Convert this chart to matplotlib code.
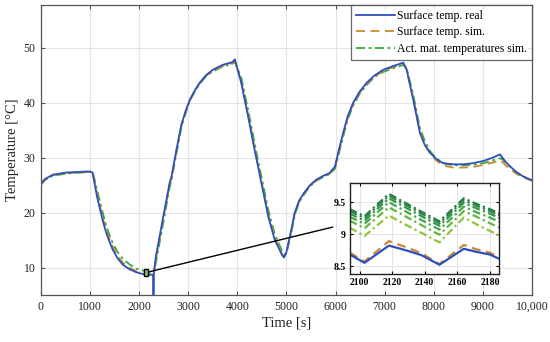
import matplotlib
matplotlib.use("Agg")
import matplotlib.pyplot as plt
from matplotlib.patches import Rectangle, ConnectionPatch

# ---------------- data ----------------
t = [0, 80, 240, 510, 990, 1050, 1090, 1140, 1190, 1260, 1330, 1400, 1460, 1560, 1670,
     1800, 1940, 2100, 2210, 2285, 2292, 2300, 2340, 2480, 2620, 2660, 2760, 2860, 2950,
     3030, 3130, 3230, 3360, 3500, 3700, 3900, 3950, 4080, 4220, 4350, 4490, 4630, 4760,
     4910, 4950, 5000, 5100, 5170, 5260, 5360, 5480, 5610, 5750, 5880, 5990, 6070, 6155,
     6250, 6360, 6490, 6630, 6800, 6970, 7180, 7380, 7450, 7585, 7720, 7820, 7925, 8050,
     8190, 8400, 8600, 8800, 9010, 9200, 9350, 9400, 9480, 9560, 9680, 9820, 10000]
real = [25.3, 26.1, 26.9, 27.3, 27.5, 27.3, 25.4, 23.0, 21.1, 18.5, 16.3, 14.6, 13.3, 11.7,
        10.5, 9.7, 9.15, 8.75, 8.7, 8.7, 4.0, 9.0, 12.0, 18.7, 25.4, 26.6, 31.5, 36.0, 38.6,
        40.5, 42.2, 43.6, 45.0, 46.0, 46.9, 47.4, 47.9, 43.6, 37.5, 31.5, 25.4, 19.3, 15.1,
        12.3, 11.8, 12.8, 16.9, 20.0, 22.2, 23.6, 25.0, 26.0, 26.7, 27.2, 28.4, 31.5, 34.5,
        37.6, 40.0, 42.0, 43.6, 45.0, 46.0, 46.7, 47.3, 46.0, 40.5, 34.5, 32.3, 30.9, 29.8,
        29.0, 28.8, 28.8, 29.0, 29.4, 30.0, 30.6, 30.0, 29.1, 28.4, 27.4, 26.6, 25.9]
sim = [25.2, 26.0, 26.8, 27.2, 27.4, 27.3, 25.8, 23.5, 21.6, 19.0, 16.8, 15.1, 13.8, 12.1,
       10.9, 10.0, 9.3, 8.85, 8.75, 8.75, 8.8, 8.9, 11.6, 18.4, 25.1, 26.4, 31.2, 35.8, 38.4,
       40.4, 42.1, 43.5, 44.9, 45.8, 46.7, 47.2, 47.6, 43.9, 37.9, 31.9, 25.8, 19.7, 15.5,
       12.5, 12.0, 12.6, 16.7, 19.9, 22.1, 23.5, 24.9, 25.9, 26.6, 27.1, 28.2, 31.2, 34.2,
       37.3, 39.8, 41.8, 43.4, 44.8, 45.8, 46.5, 47.1, 46.1, 40.8, 34.8, 32.4, 30.8, 29.5,
       28.6, 28.2, 28.2, 28.3, 28.7, 29.1, 29.5, 29.2, 28.5, 27.9, 27.1, 26.4, 25.8]
act = [25.0, 25.9, 26.7, 27.1, 27.4, 27.4, 26.1, 24.2, 22.4, 19.9, 17.6, 15.8, 14.5, 12.8,
       11.6, 10.6, 9.8, 9.4, 9.2, 9.1, 9.1, 9.1, 10.9, 17.6, 24.6, 26.0, 30.8, 35.5, 38.2,
       40.3, 42.0, 43.4, 44.8, 45.7, 46.6, 47.1, 47.4, 44.6, 38.7, 32.7, 26.6, 20.5, 16.2,
       13.0, 12.4, 12.6, 16.3, 19.6, 21.9, 23.3, 24.8, 25.8, 26.5, 27.0, 28.0, 30.8, 33.8,
       37.0, 39.5, 41.6, 43.2, 44.7, 45.6, 46.3, 46.9, 46.3, 41.4, 35.4, 33.0, 31.2, 29.9,
       29.0, 28.6, 28.6, 28.7, 29.0, 29.5, 29.9, 29.7, 29.0, 28.3, 27.4, 26.6, 25.9]

t_in = [2094, 2103, 2118, 2128, 2138, 2149, 2164, 2172, 2180, 2186]
real_in = [8.68, 8.55, 8.82, 8.75, 8.67, 8.52, 8.77, 8.72, 8.68, 8.61]
sim_in = [8.71, 8.57, 8.89, 8.80, 8.70, 8.53, 8.83, 8.76, 8.71, 8.63]
act1_in = [9.39, 9.28, 9.63, 9.49, 9.35, 9.20, 9.56, 9.47, 9.39, 9.32]
act2_in = [9.36, 9.25, 9.60, 9.46, 9.32, 9.17, 9.53, 9.44, 9.36, 9.29]
act3_in = [9.32, 9.21, 9.56, 9.42, 9.28, 9.13, 9.49, 9.40, 9.32, 9.25]
act4_in = [9.27, 9.16, 9.50, 9.36, 9.22, 9.07, 9.43, 9.34, 9.26, 9.19]
act5_in = [9.21, 9.09, 9.42, 9.28, 9.14, 8.99, 9.36, 9.27, 9.17, 9.10]
act6_in = [9.10, 8.97, 9.29, 9.15, 9.02, 8.87, 9.26, 9.15, 9.05, 8.97]

x_ticks = [0, 1000, 2000, 3000, 4000, 5000, 6000, 7000, 8000, 9000, 10000]
x_ticklabels = ["0", "1000", "2000", "3000", "4000", "5000", "6000", "7000", "8000", "9000", "10,000"]
y_ticks = [10, 20, 30, 40, 50]
in_xticks = [2100, 2120, 2140, 2160, 2180]
in_yticks = [8.5, 9, 9.5]
in_yticklabels = ["8.5", "9", "9.5"]
labels = ["Surface temp. real", "Surface temp. sim.", "Act. mat. temperatures sim."]

# ---------------- style ----------------
plt.rcParams['font.family'] = ['Liberation Serif', 'DejaVu Serif']
BLUE = '#2f4fbf'
ORANGE = '#c88a30'
GREEN = '#3aa83a'
green_shades = ['#2e7a45', '#2f8a48', '#34984a', '#45a847', '#62b840', '#8cc63a']
SPINE = '#555555'
GRID = '#e4e4e4'
dashdot = (0, (5, 2, 1.5, 2))

fig = plt.figure(figsize=(5.5, 3.42), dpi=100)
ax = fig.add_axes([0.0745, 0.1374, 0.8925, 0.848])

ax.plot(t, act, color=GREEN, lw=1.3, ls=dashdot, label=labels[2], zorder=3)
ax.plot(t, sim, color=ORANGE, lw=1.3, ls=(0, (5, 3)), label=labels[1], zorder=4)
ax.plot(t, real, color=BLUE, lw=1.3, label=labels[0], zorder=5)

ax.set_xlim(0, 10000)
ax.set_ylim(5, 57.8)
ax.set_xticks(x_ticks)
ax.set_xticklabels(x_ticklabels)
ax.set_yticks(y_ticks)
ax.tick_params(direction='in', top=True, right=True, labelsize=8.5, length=3,
               color=SPINE, labelcolor='#222222', pad=4)
ax.grid(True, color=GRID, lw=0.8)
ax.set_axisbelow(True)
for s in ax.spines.values():
    s.set_color(SPINE)
    s.set_linewidth(0.9)
ax.set_xlabel("Time [s]", fontsize=10.5, color='#222222', labelpad=3)
ax.set_ylabel("Temperature [\u00b0C]", fontsize=10.5, color='#222222', labelpad=3)

h, l = ax.get_legend_handles_labels()
order = [2, 1, 0]
leg = ax.legend([h[i] for i in order], [l[i] for i in order], loc='upper right',
                fontsize=8.5, frameon=True, fancybox=False, edgecolor='#444444',
                borderaxespad=0.0, handlelength=3.3, handletextpad=0.2,
                labelspacing=0.4, borderpad=0.4)
leg.get_frame().set_linewidth(0.9)

# inset
axin = fig.add_axes([0.636, 0.1988, 0.271, 0.2661])
for c, ys in zip(green_shades, [act1_in, act2_in, act3_in, act4_in, act5_in, act6_in]):
    axin.plot(t_in, ys, color=c, lw=1.6, ls=(0, (3.5, 1.5, 1, 1.5)))
axin.plot(t_in, sim_in, color=ORANGE, lw=1.6, ls=(0, (4, 2.5)))
axin.plot(t_in, real_in, color=BLUE, lw=1.6)
axin.set_xlim(2094, 2185.5)
axin.set_ylim(8.375, 9.8)
axin.set_xticks(in_xticks)
axin.set_yticks(in_yticks)
axin.set_yticklabels(in_yticklabels)
axin.tick_params(direction='in', top=True, right=True, labelsize=7, length=2.5, pad=3)
for lab in axin.get_xticklabels() + axin.get_yticklabels():
    lab.set_fontweight('bold')
axin.grid(True, color=GRID, lw=0.7)
axin.set_axisbelow(True)
for s in axin.spines.values():
    s.set_color('#222222')
    s.set_linewidth(1.0)

# zoom rectangle and connector
x0, x1 = axin.get_xlim()
y0, y1 = axin.get_ylim()
rect = Rectangle((x0, y0), x1 - x0, y1 - y0, facecolor='#9bbb7a', edgecolor='black',
                 lw=1.0, zorder=6)
ax.add_patch(rect)
con = ConnectionPatch(xyA=(x1, (y0 + y1) / 2 + 0.1), coordsA=ax.transData,
                      xyB=(-0.114, 0.516), coordsB=axin.transAxes,
                      color='black', lw=1.0, zorder=6)
fig.add_artist(con)

fig.savefig("out.png", dpi=100)
